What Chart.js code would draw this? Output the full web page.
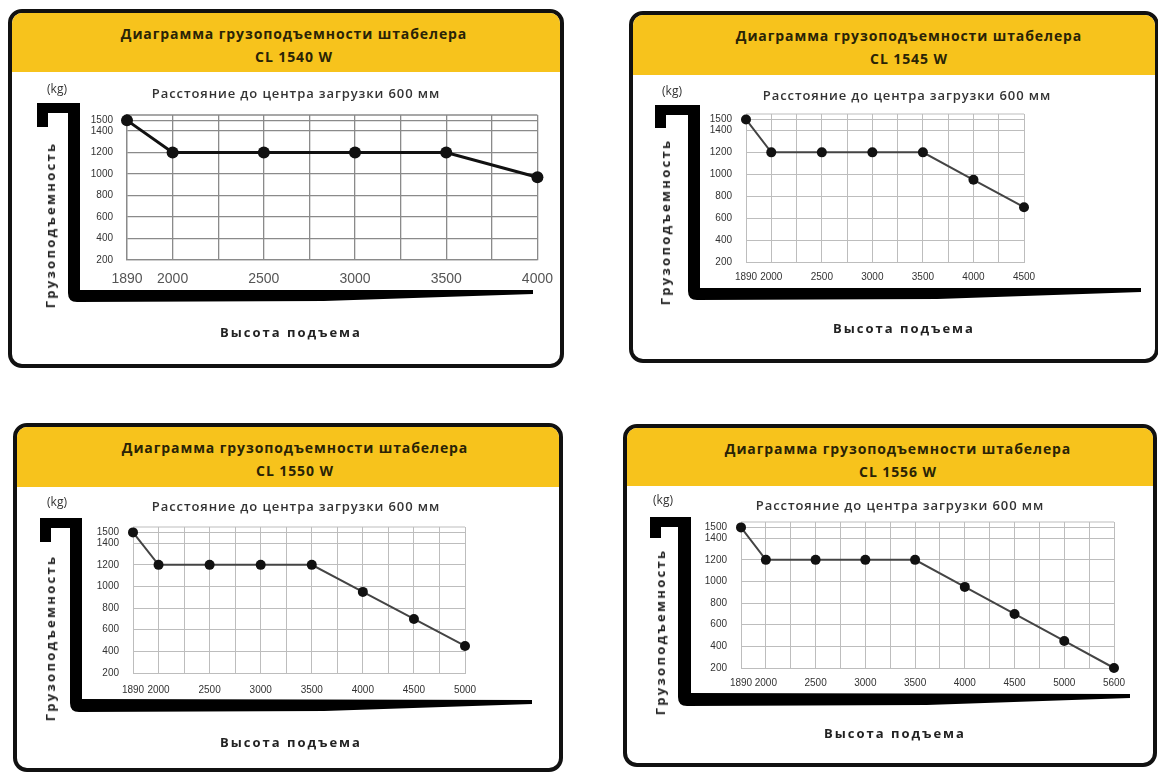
<!DOCTYPE html>
<html lang="ru">
<head>
<meta charset="UTF-8">
<title>Диаграмма грузоподъемности штабелера</title>
<script src="https://cdn.jsdelivr.net/npm/chart.js"></script>
<style>
  body {
    margin: 0;
    background: #fff;
    width: 1158px;
    height: 773px;
    overflow: hidden;
    position: relative;
    font-family: "Open Sans", sans-serif;
  }
  .panel {
    position: absolute;
    box-sizing: border-box;
    border: 4px solid #111;
    border-radius: 14px;
    background: #fff;
    overflow: hidden;
  }
  .head {
    position: absolute;
    left: 0; top: 0; right: 0;
    box-sizing: border-box;
    background: #f7c31c;
    text-align: center;
    font-weight: 700;
    font-size: 14px;
    letter-spacing: 0.9px;
    line-height: 23px;
    padding-top: 9px;
    color: #2a2306;
  }
  .box { position: absolute; }
  .txt {
    position: absolute;
    transform: translate(-50%, -50%);
    white-space: nowrap;
    color: #333;
  }
  .sub { font-size: 13px; font-weight: 600; letter-spacing: 0.9px; }
  .kg { font-size: 12px; }
  .ytitle {
    font-size: 13px; font-weight: 700; letter-spacing: 2.3px; color: #222;
    transform: translate(-50%, -50%) rotate(-90deg);
  }
  .xtitle { font-size: 13px; font-weight: 700; letter-spacing: 2px; color: #222; }
</style>
</head>
<body>
<script>
  // lift heights (mm) — every grid step of 250 is a category, only some are labelled
  const lift1540 = ['1890','2000','2250','2500','2750','3000','3250','3500','3750','4000'];
  const lift1545 = ['1890','2000','2250','2500','2750','3000','3250','3500','3750','4000','4250','4500'];
  const lift1550 = ['1890','2000','2250','2500','2750','3000','3250','3500','3750','4000','4250','4500','4750','5000'];
  const lift1556 = ['1890','2000','2250','2500','2750','3000','3250','3500','3750','4000','4250','4500','4750','5000','5250','5600'];

  // capacity (kg), null where no point is drawn
  const load1540 = [1500, 1200, null, 1200, null, 1200, null, 1200, null, 970];
  const load1545 = [1500, 1200, null, 1200, null, 1200, null, 1200, null, 950, null, 700];
  const load1550 = [1500, 1200, null, 1200, null, 1200, null, 1200, null, 950, null, 700, null, 450];
  const load1556 = [1500, 1200, null, 1200, null, 1200, null, 1200, null, 950, null, 700, null, 450, null, 200];

  const shownLift = ['1890','2000','2500','3000','3500','4000','4500','5000','5600'];
  const loadTicks = [200, 400, 600, 800, 1000, 1200, 1400, 1500];

  const titleText = 'Диаграмма грузоподъемности штабелера';
  const subtitleText = 'Расстояние до центра загрузки 600 мм';
  const yTitle = 'Грузоподъемность';
  const xTitle = 'Высота подъема';
  const unitText = '(kg)';

  const Y_W = 45, X_H = 24;
  const tickFamily = "'Liberation Sans', 'DejaVu Sans', sans-serif";

  // page layout of the four cards
  const panels = [
    { model: 'CL 1540 W', lift: lift1540, load: load1540,
      box: { l: 8, t: 9, w: 556, h: 359 }, head: 59, shift: 16,
      plot: { l: 127, r: 548, t: 115, b: 260 },
      kg: [57, 88], sub: [296, 93], yt: [50, 225], xt: [291, 332],
      fork: { x0: 37, x1: 68, x2: 80, y0: 103, y1: 113, y2: 127, b0: 290, b1: 302, tx: 533, ty: 292 },
      line: '#111', lw: 3, pr: 6, grid: '#8a8a8a', gw: 1.3,
      xfont: { family: tickFamily, size: 14 }, xcolor: '#555', xpad: 11 },
    { model: 'CL 1545 W', lift: lift1545, load: load1545,
      box: { l: 629, t: 11, w: 530, h: 352 }, head: 60, shift: 30,
      plot: { l: 746, r: 1024, t: 114, b: 262 },
      kg: [672, 90], sub: [907, 95], yt: [665, 222], xt: [904, 328],
      fork: { x0: 655, x1: 688, x2: 700, y0: 105, y1: 115, y2: 128, b0: 288, b1: 300, tx: 1141, ty: 290 },
      line: '#444', lw: 2, pr: 5, grid: '#bdbdbd', gw: 1,
      xfont: { family: tickFamily, size: 10 }, xcolor: '#333', xpad: 9 },
    { model: 'CL 1550 W', lift: lift1550, load: load1550,
      box: { l: 13, t: 423, w: 550, h: 349 }, head: 60, shift: 14,
      plot: { l: 133, r: 465, t: 527, b: 673 },
      kg: [57, 501], sub: [296, 506], yt: [50, 638], xt: [291, 742],
      fork: { x0: 40, x1: 70, x2: 82, y0: 518, y1: 528, y2: 542, b0: 699, b1: 712, tx: 532, ty: 702 },
      line: '#444', lw: 2, pr: 5, grid: '#bdbdbd', gw: 1,
      xfont: { family: tickFamily, size: 10 }, xcolor: '#333', xpad: 11 },
    { model: 'CL 1556 W', lift: lift1556, load: load1556,
      box: { l: 623, t: 424, w: 534, h: 343 }, head: 58, shift: 16,
      plot: { l: 741, r: 1114, t: 522, b: 668 },
      kg: [663, 499], sub: [900, 505], yt: [660, 632], xt: [895, 733],
      fork: { x0: 650, x1: 678, x2: 691, y0: 517, y1: 527, y2: 538, b0: 693, b1: 706, tx: 1130, ty: 696 },
      line: '#444', lw: 2, pr: 5, grid: '#bdbdbd', gw: 1,
      xfont: { family: tickFamily, size: 10 }, xcolor: '#333', xpad: 9 }
  ];

  function addText(cls, text, pos) {
    const d = document.createElement('div');
    d.className = 'txt ' + cls;
    d.textContent = text;
    d.style.left = pos[0] + 'px';
    d.style.top = pos[1] + 'px';
    document.body.appendChild(d);
  }

  // black fork drawn behind each chart
  const forkPlugin = {
    id: 'fork',
    beforeDraw(chart, args, opts) {
      const f = opts.f, ox = opts.ox, oy = opts.oy;
      const c = chart.ctx;
      const X = v => v - ox, Y = v => v - oy;
      const mid = f.x1 + (f.tx - f.x1) * 0.55;
      const r = 9;
      c.save();
      c.fillStyle = '#000';
      c.beginPath();
      c.moveTo(X(f.x0), Y(f.y0));
      c.lineTo(X(f.x2), Y(f.y0));
      c.lineTo(X(f.x2), Y(f.b0));
      c.lineTo(X(f.tx), Y(f.ty - 2));
      c.lineTo(X(f.tx), Y(f.ty + 2));
      c.lineTo(X(mid), Y(f.b1 - 1));
      c.lineTo(X(f.x1 + r), Y(f.b1));
      c.quadraticCurveTo(X(f.x1), Y(f.b1), X(f.x1), Y(f.b1 - r));
      c.lineTo(X(f.x1), Y(f.y1));
      c.lineTo(X(f.x0 + 11), Y(f.y1));
      c.lineTo(X(f.x0 + 11), Y(f.y2));
      c.lineTo(X(f.x0), Y(f.y2));
      c.closePath();
      c.fill();
      c.restore();
    }
  };

  // top edge of the plot frame
  const framePlugin = {
    id: 'frame',
    beforeDatasetsDraw(chart, args, opts) {
      const a = chart.chartArea, c = chart.ctx;
      c.save();
      c.strokeStyle = opts.color;
      c.lineWidth = opts.width;
      c.beginPath();
      c.moveTo(a.left, a.top);
      c.lineTo(a.right, a.top);
      c.stroke();
      c.restore();
    }
  };

  panels.forEach(p => {
    const card = document.createElement('div');
    card.className = 'panel';
    Object.assign(card.style, {
      left: p.box.l + 'px', top: p.box.t + 'px',
      width: p.box.w + 'px', height: p.box.h + 'px'
    });
    const head = document.createElement('div');
    head.className = 'head';
    head.style.height = p.head + 'px';
    head.style.paddingLeft = p.shift + 'px';
    head.innerHTML = titleText + '<br>' + p.model;
    card.appendChild(head);
    document.body.appendChild(card);

    const wrap = document.createElement('div');
    wrap.className = 'box';
    Object.assign(wrap.style, {
      left: p.box.l + 'px', top: p.box.t + 'px',
      width: p.box.w + 'px', height: p.box.h + 'px'
    });
    const cv = document.createElement('canvas');
    wrap.appendChild(cv);
    document.body.appendChild(wrap);

    addText('kg', unitText, p.kg);
    addText('sub', subtitleText, p.sub);
    addText('ytitle', yTitle, p.yt);
    addText('xtitle', xTitle, p.xt);

    new Chart(cv, {
      type: 'line',
      data: {
        labels: p.lift,
        datasets: [{
          data: p.load,
          borderColor: p.line,
          borderWidth: p.lw,
          pointRadius: p.pr,
          pointBackgroundColor: '#111',
          pointBorderColor: '#111',
          pointBorderWidth: 0,
          spanGaps: true,
          tension: 0,
          clip: false
        }]
      },
      options: {
        responsive: true,
        maintainAspectRatio: false,
        animation: false,
        layout: {
          autoPadding: false,
          padding: {
            left: p.plot.l - p.box.l - Y_W,
            top: p.plot.t - p.box.t,
            right: p.box.l + p.box.w - p.plot.r,
            bottom: p.box.t + p.box.h - p.plot.b - X_H
          }
        },
        plugins: {
          legend: { display: false },
          tooltip: { enabled: false },
          fork: { f: p.fork, ox: p.box.l, oy: p.box.t },
          frame: { color: p.grid, width: p.gw }
        },
        scales: {
          x: {
            grid: { color: p.grid, lineWidth: p.gw, drawTicks: false },
            border: { color: p.grid, width: p.gw },
            ticks: {
              autoSkip: false,
              maxRotation: 0,
              padding: p.xpad,
              color: p.xcolor,
              font: p.xfont,
              callback: function (v) {
                const l = this.getLabelForValue(v);
                return shownLift.includes(l) ? l : '';
              }
            },
            afterFit(a) { a.height = X_H; }
          },
          y: {
            min: 200,
            max: 1550,
            afterBuildTicks(a) { a.ticks = loadTicks.map(v => ({ value: v })); },
            grid: { color: p.grid, lineWidth: p.gw, drawTicks: false },
            border: { color: p.grid, width: p.gw },
            ticks: {
              padding: 14,
              color: '#333',
              font: { family: tickFamily, size: 10 },
              callback: v => String(v)
            },
            afterFit(a) { a.width = Y_W; }
          }
        }
      },
      plugins: [forkPlugin, framePlugin]
    });
  });
</script>
</body>
</html>
